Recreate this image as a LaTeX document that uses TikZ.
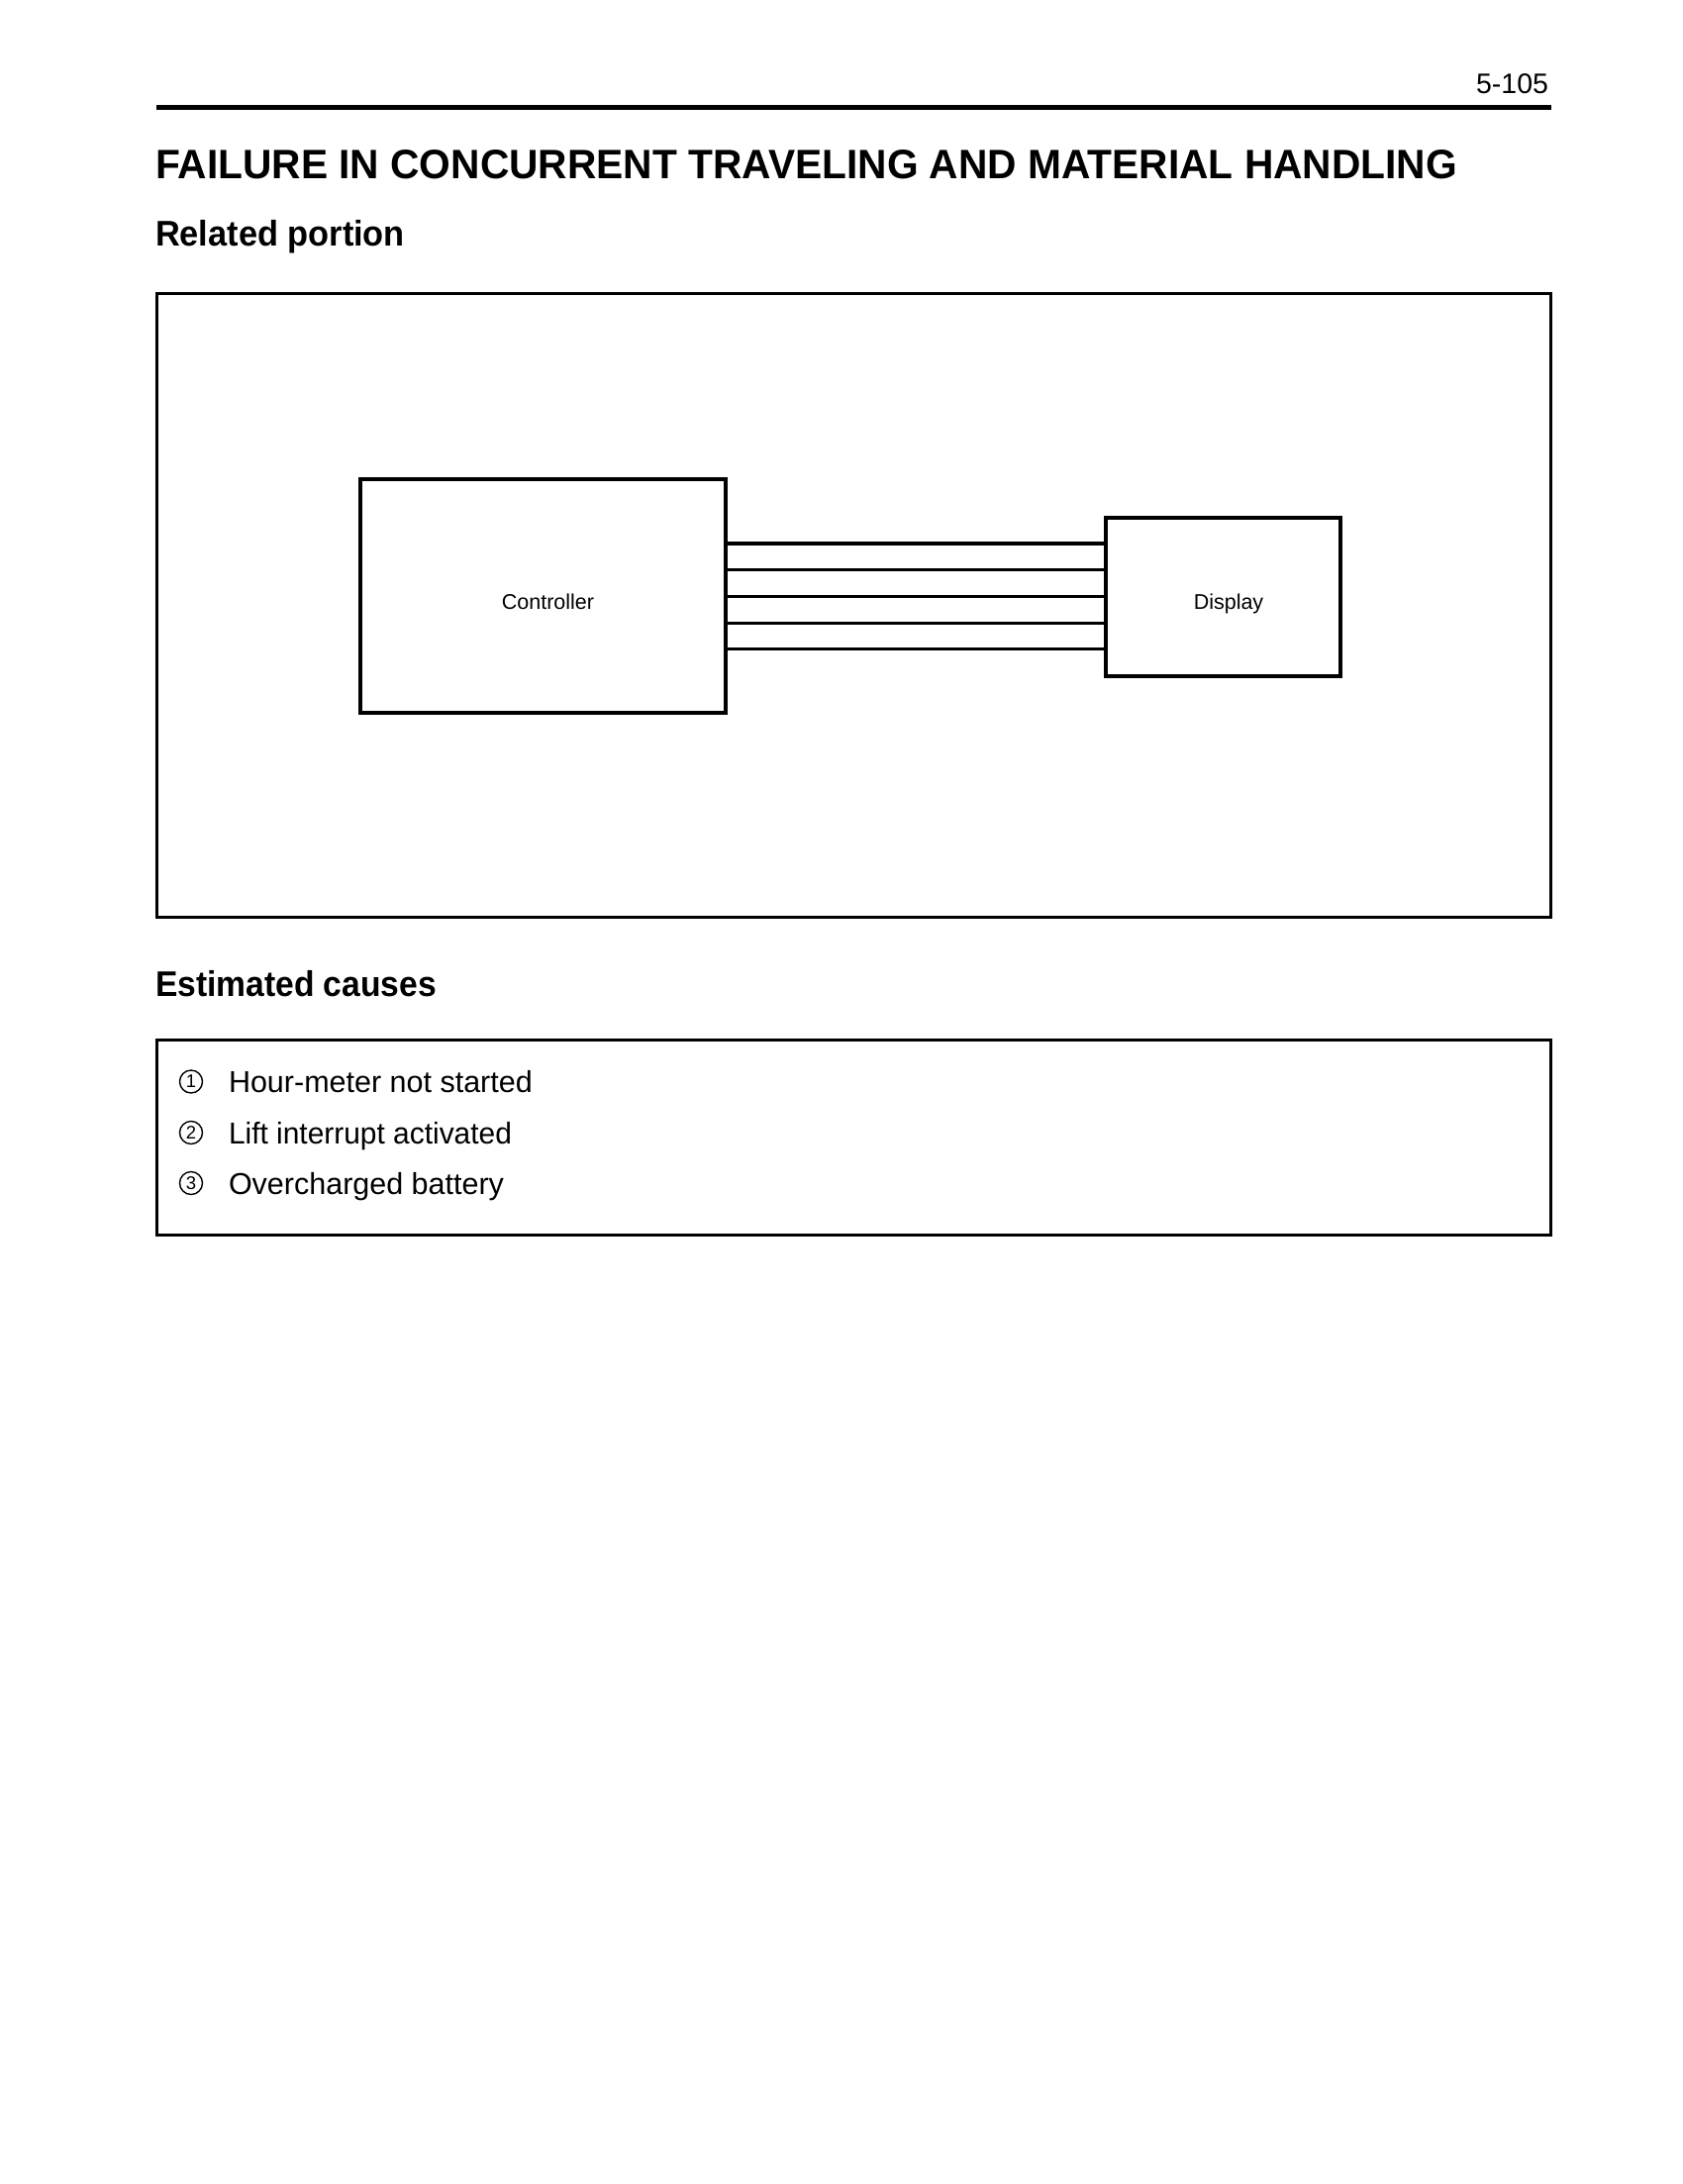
\documentclass[tikz,border=0pt]{standalone}
\usepackage{graphicx}
\usepackage{fontspec}
\setmainfont{Liberation Sans}
\usetikzlibrary{shapes.geometric}
% set a font size given in points (one point is one pixel of the page)
\newcommand\fsz[1]{\fontsize{#1}{#1}\selectfont}
% stretch or squeeze a line of text to a given width, keeping its height
\newcommand\fitwidth[2]{\resizebox{#1}{\height}{#2}}

\begin{document}
\begin{tikzpicture}[x=1pt,y=-1pt,
  txt/.style={inner sep=0pt, outer sep=0pt},
  frame/.style={draw, line width=3pt, rectangle, inner sep=0pt},
  unit/.style={draw, line width=3.3pt, rectangle, inner sep=0pt},
  wire/.style={line width=3.1pt},
  rule/.style={line width=4.8pt},
  num/.style={draw, circle, line width=1.4pt, minimum size=23pt,
              inner sep=0pt, font=\fsz{18.5}},
  item/.style={txt, anchor=base west, font=\fsz{30.5}},
  heading/.style={txt, anchor=base west, font=\fsz{36}\bfseries}]

\fill[white] (0,0) rectangle (1700,2206);
\useasboundingbox (0,0) rectangle (1700,2206);

% page header
\node[txt, anchor=base east, font=\fsz{28.5}] (page) at (1564,94.3) {5-105};
\draw[rule] (158,108.8) -- (1566.5,108.8);

\node[txt, anchor=base west] (title) at (157,180)
  {\fitwidth{1315pt}{\fsz{41.5}\bfseries FAILURE IN CONCURRENT TRAVELING AND MATERIAL HANDLING}};

% related portion
\node[heading] (related) at (157,248)
  {\fitwidth{252pt}{Related portion}};

\node[frame, minimum width=1408pt, minimum height=630pt] (portion) at (862,611) {};

\node[unit, minimum width=369pt, minimum height=236pt] (ctrl) at (548.5,602) {};
\node[unit, minimum width=237pt, minimum height=160pt] (disp) at (1235.5,603) {};

\node[txt, anchor=base, font=\fsz{21.5}] (ctrl-text) at (553.5,615) {Controller};
\node[txt, anchor=base, font=\fsz{21.5}] (disp-text) at (1241,615) {Display};

% harness between controller and display
\foreach \i/\s in {1/54,2/27.3,3/0.6,4/-26.1,5/-52.8}{
  \coordinate (w\i) at ([yshift=\s pt]disp.west);
  \draw[wire] (ctrl.east |- w\i) -- (w\i);
}

% estimated causes
\node[heading] (causes) at (157,1006.7)
  {\fitwidth{284pt}{Estimated causes}};

\node[frame, minimum width=1408pt, minimum height=197pt] (causebox) at (862,1148.5) {};

\node[num] (n1) at (193,1092.5) {1};
\node[item] (c1) at (231,1103.5) {Hour-meter not started};
\node[num] (n2) at (193,1144) {2};
\node[item] (c2) at (231,1155) {\fitwidth{286pt}{Lift interrupt activated}};
\node[num] (n3) at (193,1195) {3};
\node[item] (c3) at (231,1206) {Overcharged battery};

\end{tikzpicture}
\end{document}
